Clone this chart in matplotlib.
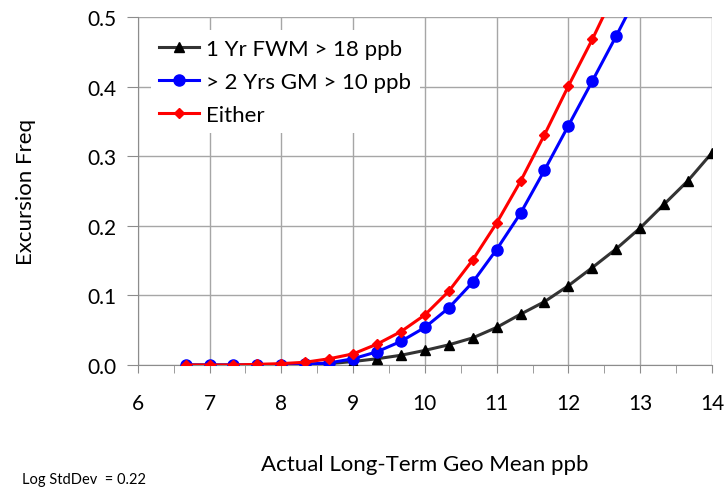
import matplotlib
matplotlib.use("Agg")
import matplotlib.pyplot as plt
from matplotlib.ticker import MultipleLocator, FormatStrFormatter

plt.rcParams["font.family"] = ["Lato", "DejaVu Sans"]

# Actual long-term geo mean (ppb), steps of 1/3
geo_mean = [6.667, 7.0, 7.333, 7.667, 8.0, 8.333, 8.667, 9.0, 9.333, 9.667,
            10.0, 10.333, 10.667, 11.0, 11.333, 11.667, 12.0, 12.333, 12.667,
            13.0, 13.333, 13.667, 14.0]

# Excursion frequencies
fwm_1yr = [0.0, 0.0, 0.0, 0.0, 0.0, 0.001, 0.002, 0.005, 0.009, 0.014,
           0.021, 0.029, 0.039, 0.054, 0.073, 0.091, 0.114, 0.140, 0.167,
           0.197, 0.231, 0.265, 0.305]
gm_2yrs = [0.0, 0.0, 0.0, 0.0, 0.0, 0.001, 0.003, 0.009, 0.019, 0.034,
           0.054, 0.082, 0.119, 0.166, 0.218, 0.280, 0.344, 0.408, 0.473,
           0.540]
either = [0.0, 0.0, 0.0, 0.001, 0.002, 0.004, 0.009, 0.016, 0.030, 0.048,
          0.072, 0.106, 0.151, 0.204, 0.264, 0.331, 0.401, 0.468, 0.540]

fig = plt.figure(figsize=(7.25, 4.89), dpi=100)
ax = fig.add_axes([0.190, 0.2515, 0.792, 0.7115])

ax.plot(geo_mean, fwm_1yr, "-^", color="#333333", lw=2.2, ms=7,
        mfc="black", mec="black", label="1 Yr FWM > 18 ppb", zorder=3)
ax.plot(geo_mean[:len(gm_2yrs)], gm_2yrs, "-o", color="#0000ff", lw=2.2,
        ms=8, label="> 2 Yrs GM > 10 ppb", zorder=4)
ax.plot(geo_mean[:len(either)], either, "-D", color="#ff0000", lw=2.2,
        ms=5.5, label="Either", zorder=5)

ax.set_xlim(6, 14)
ax.set_ylim(0, 0.5)
ax.xaxis.set_major_locator(MultipleLocator(1))
ax.xaxis.set_minor_locator(MultipleLocator(0.5))
ax.yaxis.set_major_locator(MultipleLocator(0.1))
ax.yaxis.set_major_formatter(FormatStrFormatter("%.1f"))

ax.grid(True, color="#a6a6a6", lw=1)
ax.set_axisbelow(True)
for s in ["top", "right"]:
    ax.spines[s].set_visible(False)
for s in ["left", "bottom"]:
    ax.spines[s].set_color("#8c8c8c")
ax.tick_params(axis="both", which="both", direction="out", color="#8c8c8c",
               labelsize=15)
ax.tick_params(axis="x", which="major", length=6, pad=14)
ax.tick_params(axis="x", which="minor", length=6)
ax.tick_params(axis="y", length=8, pad=7)

ax.set_ylabel("Excursion Freq", fontsize=16, labelpad=37)
ax.set_xlabel("Actual Long-Term Geo Mean ppb", fontsize=16, labelpad=30)

leg = ax.legend(loc="upper left", bbox_to_anchor=(0.003, 0.995), fontsize=16,
                frameon=True, edgecolor="none", framealpha=1, fancybox=False,
                handlelength=1.8, handletextpad=0.3, labelspacing=0.58,
                borderpad=0.4)

fig.text(0.03, 0.019, "Log StdDev  = 0.22", fontsize=10.5, va="center")

fig.savefig("out.png", dpi=100)
